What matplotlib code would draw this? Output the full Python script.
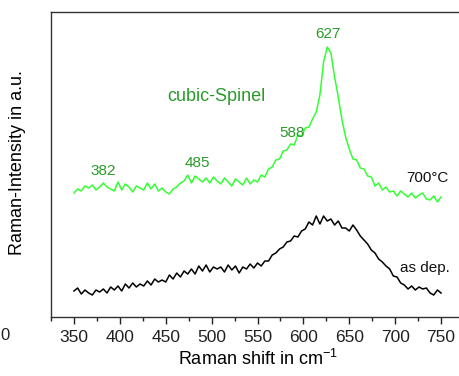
import numpy as np
import matplotlib.pyplot as plt
from matplotlib.ticker import MultipleLocator

plt.rcParams['font.family'] = ['Liberation Sans', 'DejaVu Sans']

# Raman shift grid (cm^-1)
shift = np.arange(350, 751, 4)

# 700 degC annealed film (offset a.u.)
i_700 = [124, 128, 126, 131, 129, 132, 127, 130, 134, 130,
         128, 126, 135, 127, 133, 130, 125, 131, 129, 127,
         134, 128, 133, 126, 129, 125, 123, 128, 130, 134,
         136, 142, 134, 141, 138, 135, 139, 134, 140, 136,
         133, 139, 135, 131, 138, 135, 132, 139, 133, 137,
         135, 142, 140, 148, 150, 157, 158, 166, 167, 173,
         172, 182, 181, 189, 190, 198, 205, 222, 255, 270,
         264, 240, 220, 197, 180, 168, 158, 157, 149, 148,
         141, 140, 131, 134, 127, 130, 125, 126, 121, 126,
         123, 120, 124, 119, 122, 124, 118, 117, 121, 115,
         120]

# as deposited film (a.u.)
i_dep = [26, 29, 23, 27, 24, 22, 27, 25, 28, 24,
         30, 27, 31, 26, 33, 29, 34, 30, 33, 31,
         36, 32, 38, 35, 37, 35, 42, 38, 44, 40,
         46, 43, 48, 43, 51, 46, 52, 45, 50, 48,
         50, 45, 52, 47, 51, 44, 50, 48, 53, 49,
         54, 51, 56, 56, 62, 64, 68, 70, 75, 76,
         81, 80, 86, 88, 95, 92, 101, 93, 101, 96,
         98, 92, 96, 89, 89, 86, 92, 87, 81, 77,
         73, 67, 64, 58, 55, 51, 48, 41, 40, 34,
         32, 28, 31, 27, 30, 28, 29, 24, 22, 27,
         24]

peaks = [382, 485, 588, 627]
peak_y = [146, 154, 184, 283]

green = '#33ff33'
dgreen = '#2a9a2a'

fig = plt.figure(figsize=(4.6, 3.76), dpi=100)
ax = fig.add_axes([0.1109, 0.1569, 0.8978, 0.8112])

ax.plot(shift, i_700, color=green, lw=1.1)
ax.plot(shift, i_dep, color='black', lw=1.1)

for p, py in zip(peaks, peak_y):
    ax.text(p, py, str(p), color=dgreen, fontsize=11, ha='center', va='center')

ax.text(505, 220, 'cubic-Spinel', color=dgreen, fontsize=13, ha='center', va='center')
ax.text(735, 139, '700\u00b0C', color='#111111', fontsize=11, ha='center', va='center')
ax.text(732, 49, 'as dep.', color='#111111', fontsize=11, ha='center', va='center')

ax.set_xlim(325, 775)
ax.set_ylim(0, 305)
ax.xaxis.set_major_locator(MultipleLocator(50))
ax.xaxis.set_minor_locator(MultipleLocator(25))
ax.set_yticks([])
ax.tick_params(axis='x', which='major', direction='out', length=5, width=1,
               labelsize=12.5, pad=4, colors='#222222')
ax.tick_params(axis='x', which='minor', direction='out', length=3, width=1, colors='#222222')
for s in ax.spines.values():
    s.set_color('#333333')
    s.set_linewidth(1.0)
ax.spines['right'].set_visible(False)

ax.set_xlabel(r'Raman shift in cm$^{\mathregular{-1}}$', fontsize=13, labelpad=3)
ax.set_ylabel('Raman-Intensity in a.u.', fontsize=13)
ax.yaxis.set_label_coords(-0.06, 0.505)

fig.text(0.001, 0.109, '0', fontsize=12, ha='left', va='center', color='#222222')

fig.savefig('out.png', dpi=100)
